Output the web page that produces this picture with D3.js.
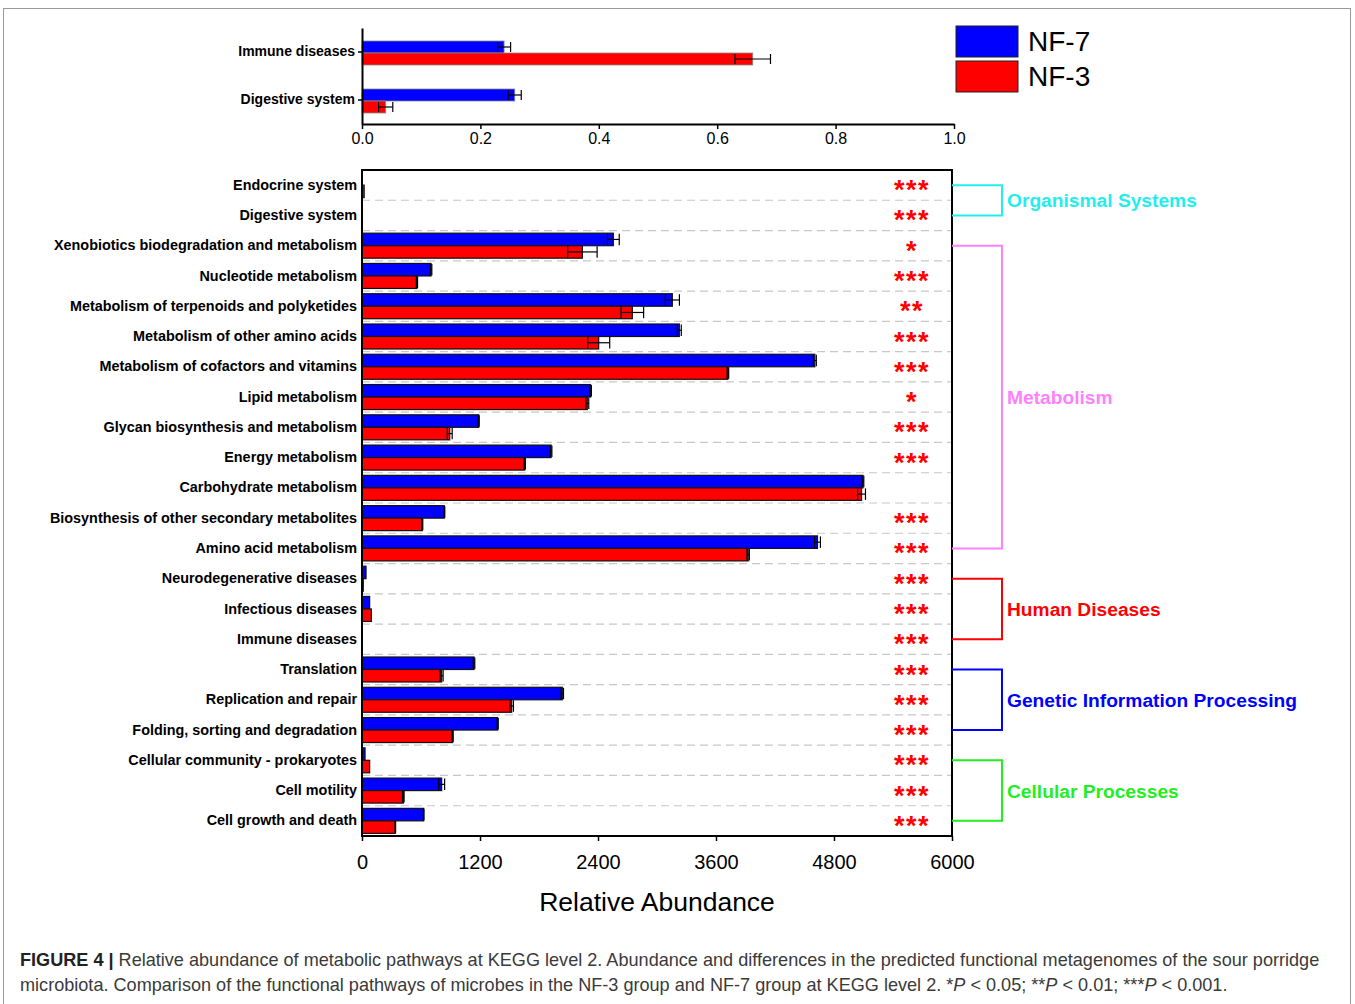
<!DOCTYPE html>
<html>
<head>
<meta charset="utf-8">
<script src="https://cdn.jsdelivr.net/npm/d3@7"></script>
<style>
  html, body { margin: 0; padding: 0; background: #fff; }
  svg { display: block; font-family: Arial, "Liberation Sans", Helvetica, sans-serif; }
</style>
</head>
<body>
<svg id="chart" width="1355" height="1004"></svg>
<script>
// ---------------- DATA ----------------
const insetCategories = ["Immune diseases", "Digestive system"];
const insetNF7 = [0.240, 0.258];
const insetNF7Err = [0.011, 0.011];
const insetNF3 = [0.660, 0.040];
const insetNF3Err = [0.030, 0.012];
const insetTicks = [0, 0.2, 0.4, 0.6, 0.8, 1.0];

const categories = [
  "Endocrine system", "Digestive system", "Xenobiotics biodegradation and metabolism",
  "Nucleotide metabolism", "Metabolism of terpenoids and polyketides",
  "Metabolism of other amino acids", "Metabolism of cofactors and vitamins",
  "Lipid metabolism", "Glycan biosynthesis and metabolism", "Energy metabolism",
  "Carbohydrate metabolism", "Biosynthesis of other secondary metabolites",
  "Amino acid metabolism", "Neurodegenerative diseases", "Infectious diseases",
  "Immune diseases", "Translation", "Replication and repair",
  "Folding, sorting and degradation", "Cellular community - prokaryotes",
  "Cell motility", "Cell growth and death"
];
const nf7Values = [2, 0.26, 2556, 702, 3156, 3227, 4605, 2325, 1187, 1923, 5095, 837, 4632, 41, 78, 0.24, 1139, 2037, 1380, 31, 810, 627];
const nf7Err    = [0, 0, 60, 8, 72, 20, 15, 8, 5, 8, 8, 5, 30, 0, 0, 0, 8, 12, 5, 0, 30, 3];
const nf3Values = [22, 0.04, 2241, 559, 2749, 2407, 3721, 2291, 892, 1655, 5080, 613, 3927, 13, 95, 0.66, 810, 1522, 922, 78, 420, 339];
const nf3Err    = [0, 0, 150, 6, 115, 112, 8, 15, 25, 6, 40, 5, 12, 0, 0, 0, 15, 18, 5, 0, 8, 3];
const significance = ["***", "***", "*", "***", "**", "***", "***", "*", "***", "***", "", "***", "***", "***", "***", "***", "***", "***", "***", "***", "***", "***"];
const mainTicks = [0, 1200, 2400, 3600, 4800, 6000];

const groupNames  = ["Organismal Systems", "Metabolism", "Human Diseases", "Genetic Information Processing", "Cellular Processes"];
const groupStart  = [0, 2, 13, 16, 19];
const groupEnd    = [1, 12, 15, 18, 21];
const groupColors = ["#22EEEE", "#FF80FF", "#FF0000", "#0000FF", "#22EE22"];

const seriesNames  = ["NF-7", "NF-3"];
const seriesColors = ["#0000FF", "#FF0000"];

// ---------------- DRAW ----------------
const svg = d3.select("#chart");
const FONT = "Arial, 'Liberation Sans', sans-serif";

// outer frame
svg.append("rect").attr("x", 3.5).attr("y", 8.5).attr("width", 1347).attr("height", 1010)
  .attr("fill", "none").attr("stroke", "#9a9a9a").attr("stroke-width", 1);

// ===== Inset chart =====
const ix = d3.scaleLinear().domain([0, 1]).range([362, 954]);
const iy = d3.scaleBand().domain(insetCategories).range([28, 124]);
const ibarH = 12;

const inset = svg.append("g");
insetCategories.forEach((c, i) => {
  const cy = iy(c) + iy.bandwidth() / 2 + 1;
  const rows = [
    {v: insetNF7[i], e: insetNF7Err[i], y: cy - ibarH, col: seriesColors[0]},
    {v: insetNF3[i], e: insetNF3Err[i], y: cy, col: seriesColors[1]}
  ];
  rows.forEach(r => {
    inset.append("rect").attr("x", ix(0)).attr("y", r.y).attr("width", ix(r.v) - ix(0)).attr("height", ibarH)
      .attr("fill", r.col).attr("stroke", "#888").attr("stroke-width", 0.8);
    const ym = r.y + ibarH / 2;
    inset.append("line").attr("x1", ix(r.v - r.e)).attr("x2", ix(r.v + r.e)).attr("y1", ym).attr("y2", ym)
      .attr("stroke", "#000").attr("stroke-width", 1.2);
    [r.v - r.e, r.v + r.e].forEach(xv => {
      inset.append("line").attr("x1", ix(xv)).attr("x2", ix(xv)).attr("y1", ym - 5).attr("y2", ym + 5)
        .attr("stroke", "#000").attr("stroke-width", 1.2);
    });
  });
});
// inset axes
const iAxisX = inset.append("g").attr("transform", "translate(0,124)")
  .call(d3.axisBottom(ix).tickValues(insetTicks).tickFormat(d3.format(".1f")).tickSize(5).tickSizeOuter(0));
iAxisX.select(".domain").attr("stroke-width", 2);
iAxisX.selectAll(".tick line").attr("stroke-width", 1.5);
iAxisX.selectAll(".tick text").attr("font-size", 16).attr("font-family", FONT).attr("fill", "#000").attr("dy", "0.75em");
const iAxisY = inset.append("g").attr("transform", "translate(362,0)")
  .call(d3.axisLeft(iy).tickSize(4).tickSizeOuter(0).tickPadding(3));
iAxisY.select(".domain").attr("stroke-width", 2);
iAxisY.selectAll(".tick line").attr("stroke-width", 1.5);
iAxisY.selectAll(".tick text").attr("font-size", 14).attr("font-weight", "bold").attr("font-family", FONT).attr("fill", "#000");

// legend
seriesNames.forEach((n, i) => {
  svg.append("rect").attr("x", 956).attr("y", 26 + i * 35).attr("width", 62).attr("height", 31)
    .attr("fill", seriesColors[i]).attr("stroke", "#222").attr("stroke-width", 1);
  svg.append("text").attr("x", 1028).attr("y", 51 + i * 35).attr("font-size", 28).attr("fill", "#000").text(n);
});

// ===== Main chart =====
const x = d3.scaleLinear().domain([0, 6000]).range([362, 952]);
const y = d3.scaleBand().domain(categories).range([170, 836]);
const step = y.step();
const barH = 12.5;

const main = svg.append("g");
// dashed gridlines between rows
categories.slice(1).forEach(c => {
  main.append("line").attr("x1", 362).attr("x2", 952).attr("y1", y(c)).attr("y2", y(c))
    .attr("stroke", "#c8c8c8").attr("stroke-width", 1.2).attr("stroke-dasharray", "8,5");
});

categories.forEach((c, i) => {
  const cy = y(c) + step / 2;
  const rows = [
    {v: nf7Values[i], e: nf7Err[i], y: cy - barH, col: seriesColors[0]},
    {v: nf3Values[i], e: nf3Err[i], y: cy, col: seriesColors[1]}
  ];
  rows.forEach(r => {
    const w = x(r.v) - x(0);
    if (w > 0.5) {
      main.append("rect").attr("x", x(0)).attr("y", r.y).attr("width", w).attr("height", barH)
        .attr("fill", r.col).attr("stroke", "#111").attr("stroke-width", 1.2);
    }
    if (r.e > 0) {
      const ym = r.y + barH / 2;
      main.append("line").attr("x1", x(r.v - r.e)).attr("x2", x(r.v + r.e)).attr("y1", ym).attr("y2", ym)
        .attr("stroke", "#000").attr("stroke-width", 1.2);
      [r.v - r.e, r.v + r.e].forEach(xv => {
        main.append("line").attr("x1", x(xv)).attr("x2", x(xv)).attr("y1", r.y + 0.5).attr("y2", r.y + barH - 0.5)
          .attr("stroke", "#000").attr("stroke-width", 1.2);
      });
    }
  });
  // significance
  if (significance[i]) {
    main.append("text").attr("x", 912).attr("y", cy + 14).attr("text-anchor", "middle")
      .attr("font-size", 27).attr("font-weight", "bold").attr("letter-spacing", 1.5)
      .attr("fill", "#FF0000").text(significance[i]);
  }
});

// frame
main.append("rect").attr("x", 362).attr("y", 170).attr("width", 590).attr("height", 666)
  .attr("fill", "none").attr("stroke", "#000").attr("stroke-width", 2);

// category labels
const yAxis = main.append("g").attr("transform", "translate(362,0)")
  .call(d3.axisLeft(y).tickSize(0).tickPadding(5));
yAxis.select(".domain").remove();
yAxis.selectAll(".tick text").attr("font-size", 14.4).attr("font-weight", "bold")
  .attr("font-family", FONT).attr("fill", "#000");

// x axis
const xAxis = main.append("g").attr("transform", "translate(0,836)")
  .call(d3.axisBottom(x).tickValues(mainTicks).tickFormat(d3.format("d")).tickSize(5).tickSizeOuter(0));
xAxis.select(".domain").remove();
xAxis.selectAll(".tick line").attr("stroke-width", 1.5);
xAxis.selectAll(".tick text").attr("font-size", 20).attr("font-family", FONT)
  .attr("fill", "#000").attr("dy", "1.25em");

svg.append("text").attr("x", 657).attr("y", 911).attr("text-anchor", "middle")
  .attr("font-size", 26.5).attr("fill", "#000").text("Relative Abundance");

// group brackets
groupNames.forEach((g, i) => {
  const y1 = y(categories[groupStart[i]]) + step / 2;
  const y2 = y(categories[groupEnd[i]]) + step / 2;
  svg.append("path").attr("d", `M952,${y1}H1002V${y2}H952`)
    .attr("fill", "none").attr("stroke", groupColors[i]).attr("stroke-width", 2);
  svg.append("text").attr("x", 1007).attr("y", (y1 + y2) / 2 + 7)
    .attr("font-size", 19.2).attr("font-weight", "bold").attr("fill", groupColors[i]).text(g);
});

// caption
const cap1 = svg.append("text").attr("x", 20).attr("y", 966).attr("font-size", 18.1).attr("fill", "#3a3a3a");
cap1.append("tspan").attr("font-weight", "bold").attr("fill", "#222").text("FIGURE 4 | ");
cap1.append("tspan").text("Relative abundance of metabolic pathways at KEGG level 2. Abundance and differences in the predicted functional metagenomes of the sour porridge");
const cap2 = svg.append("text").attr("x", 20).attr("y", 991).attr("font-size", 18.1).attr("fill", "#3a3a3a");
cap2.append("tspan").text("microbiota. Comparison of the functional pathways of microbes in the NF-3 group and NF-7 group at KEGG level 2. *");
cap2.append("tspan").attr("font-style", "italic").text("P");
cap2.append("tspan").text(" < 0.05; **");
cap2.append("tspan").attr("font-style", "italic").text("P");
cap2.append("tspan").text(" < 0.01; ***");
cap2.append("tspan").attr("font-style", "italic").text("P");
cap2.append("tspan").text(" < 0.001.");
</script>
</body>
</html>
